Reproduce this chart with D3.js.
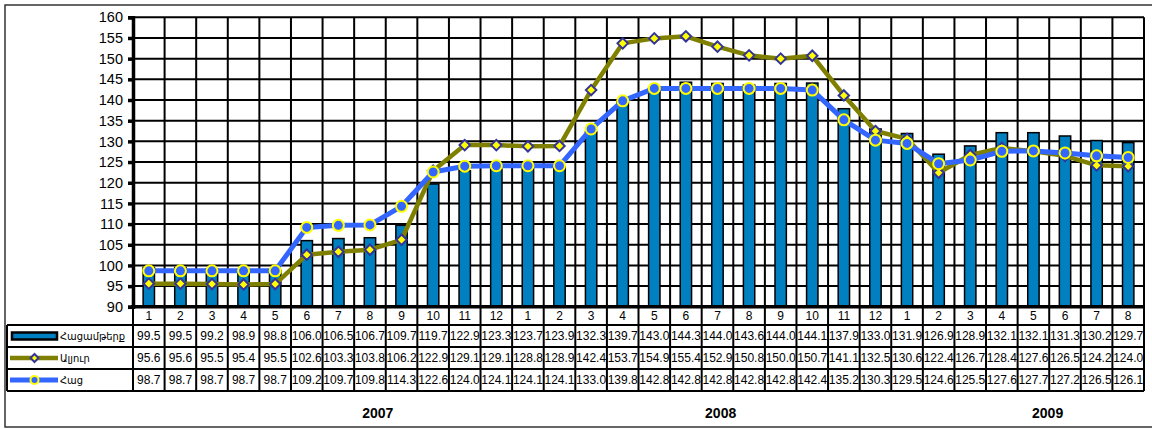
<!DOCTYPE html>
<html lang="hy">
<head>
    <meta charset="UTF-8">
    <title>Price indices chart</title>
    <script src="https://d3js.org/d3.v7.min.js"></script>
    <style>
        body {
            margin: 0;
            background: #fff;
            font-family: "Liberation Sans", Arial, "DejaVu Sans", sans-serif;
        }
        .grid line {
            stroke: #000;
            stroke-width: 2px;
        }
        .cell-text {
            font-size: 12px;
            text-anchor: middle;
        }
        .legend-text {
            font-family: "DejaVu Sans Condensed", "DejaVu Sans", sans-serif;
            font-size: 11px;
        }
        .year {
            font-size: 14px;
            font-weight: bold;
            text-anchor: middle;
        }
    </style>
</head>
<body>

<svg width="1152" height="429"></svg>

<script>
    // month labels (2007: 1-12, 2008: 1-12, 2009: 1-8)
    const months = ["1","2","3","4","5","6","7","8","9","10","11","12",
                    "1","2","3","4","5","6","7","8","9","10","11","12",
                    "1","2","3","4","5","6","7","8"];
    const years = ["2007", "2008", "2009"];

    const seriesNames = ["Հացամթերք", "Ալյուր", "Հաց"];

    // bread products (bars)
    const breadProducts = [99.5, 99.5, 99.2, 98.9, 98.8, 106.0, 106.5, 106.7, 109.7, 119.7, 122.9, 123.3,
                           123.7, 123.9, 132.3, 139.7, 143.0, 144.3, 144.0, 143.6, 144.0, 144.1, 137.9, 133.0,
                           131.9, 126.9, 128.9, 132.1, 132.1, 131.3, 130.2, 129.7];
    // flour
    const flour = [95.6, 95.6, 95.5, 95.4, 95.5, 102.6, 103.3, 103.8, 106.2, 122.9, 129.1, 129.1,
                   128.8, 128.9, 142.4, 153.7, 154.9, 155.4, 152.9, 150.8, 150.0, 150.7, 141.1, 132.5,
                   130.6, 122.4, 126.7, 128.4, 127.6, 126.5, 124.2, 124.0];
    // bread
    const bread = [98.7, 98.7, 98.7, 98.7, 98.7, 109.2, 109.7, 109.8, 114.3, 122.6, 124.0, 124.1,
                   124.1, 124.1, 133.0, 139.8, 142.8, 142.8, 142.8, 142.8, 142.8, 142.4, 135.2, 130.3,
                   129.5, 124.6, 125.5, 127.6, 127.7, 127.2, 126.5, 126.1];

    const yTicks = d3.range(90, 161, 5);

    const svg = d3.select("svg");

    // plot area
    const plotLeft = 133, plotRight = 1144, plotTop = 17.3, plotBottom = 306.8;
    // table rows
    const rowTops = [306.8, 325, 347, 369, 391];
    const tableLeft = 7;

    const x = d3.scaleBand().domain(d3.range(months.length)).range([plotLeft, plotRight]).padding(0);
    const y = d3.scaleLinear().domain([90, 160]).range([plotBottom, plotTop]);

    // outer chart frame
    svg.append("rect")
        .attr("x", 5).attr("y", 5)
        .attr("width", 1160).attr("height", 422)
        .attr("fill", "none")
        .attr("stroke", "#333")
        .attr("stroke-width", 1.5);

    // gridlines
    const grid = svg.append("g").attr("class", "grid");
    grid.selectAll(".h")
        .data(yTicks.slice(1))
        .enter().append("line")
          .attr("x1", plotLeft).attr("x2", plotRight)
          .attr("y1", d => y(d)).attr("y2", d => y(d));
    grid.selectAll(".v")
        .data(d3.range(months.length + 1))
        .enter().append("line")
          .attr("x1", i => plotLeft + i * x.step()).attr("x2", i => plotLeft + i * x.step())
          .attr("y1", plotTop).attr("y2", plotBottom);

    // bars
    const barW = x.bandwidth() * 0.36;
    svg.append("g").selectAll("rect")
        .data(breadProducts)
        .enter().append("rect")
          .attr("x", (d, i) => x(i) + (x.bandwidth() - barW) / 2)
          .attr("y", d => y(d))
          .attr("width", barW)
          .attr("height", d => y(90) - y(d))
          .attr("fill", "#0080C0")
          .attr("stroke", "#000")
          .attr("stroke-width", 1.5);

    const cx = i => x(i) + x.bandwidth() / 2;
    const line = d3.line().x((d, i) => cx(i)).y(d => y(d));

    // flour line + diamonds
    svg.append("path")
        .datum(flour)
        .attr("d", line)
        .attr("fill", "none")
        .attr("stroke", "#808000")
        .attr("stroke-width", 4.5)
        .attr("stroke-linejoin", "round");
    svg.append("g").selectAll("path")
        .data(flour)
        .enter().append("path")
          .attr("d", d3.symbol(d3.symbolDiamond2, 70))
          .attr("transform", (d, i) => `translate(${cx(i)},${y(d)})`)
          .attr("fill", "#FFFF00")
          .attr("stroke", "#333399")
          .attr("stroke-width", 2);

    // bread line + circles
    svg.append("path")
        .datum(bread)
        .attr("d", line)
        .attr("fill", "none")
        .attr("stroke", "#3366FF")
        .attr("stroke-width", 5)
        .attr("stroke-linejoin", "round");
    svg.append("g").selectAll("circle")
        .data(bread)
        .enter().append("circle")
          .attr("cx", (d, i) => cx(i))
          .attr("cy", d => y(d))
          .attr("r", 5.5)
          .attr("fill", "#3366FF")
          .attr("stroke", "#FFFF00")
          .attr("stroke-width", 2);

    // y axis
    const yAxis = svg.append("g")
        .attr("transform", `translate(${plotLeft},0)`)
        .call(d3.axisLeft(y).tickValues(yTicks).tickSize(5).tickPadding(5));
    yAxis.select(".domain").attr("stroke", "#000").attr("stroke-width", 3.5);
    yAxis.selectAll(".tick line").attr("stroke", "#000").attr("stroke-width", 3.5);
    yAxis.selectAll(".tick text")
        .attr("fill", "#000")
        .style("font-size", "14.5px")
        .style("font-family", "\"Liberation Sans\", Arial, sans-serif");

    // data table
    const table = svg.append("g").attr("class", "grid");
    // bottom axis line
    table.append("line")
        .attr("x1", plotLeft - 2).attr("x2", plotRight + 1)
        .attr("y1", plotBottom).attr("y2", plotBottom)
        .style("stroke-width", 3.5);
    rowTops.slice(1).forEach(ry => {
        table.append("line")
            .attr("x1", tableLeft).attr("x2", plotRight)
            .attr("y1", ry).attr("y2", ry);
    });
    table.selectAll(".tv")
        .data(d3.range(months.length + 1))
        .enter().append("line")
          .attr("x1", i => plotLeft + i * x.step()).attr("x2", i => plotLeft + i * x.step())
          .attr("y1", plotBottom).attr("y2", rowTops[4]);
    table.append("line")
        .attr("x1", tableLeft).attr("x2", tableLeft)
        .attr("y1", rowTops[1]).attr("y2", rowTops[4]);

    const rowMid = k => (rowTops[k] + rowTops[k + 1]) / 2;

    svg.append("g").selectAll("text")
        .data(months)
        .enter().append("text")
          .attr("class", "cell-text")
          .attr("x", (d, i) => cx(i))
          .attr("y", rowMid(0))
          .attr("dy", "0.36em")
          .text(d => d);

    [breadProducts, flour, bread].forEach((vals, k) => {
        svg.append("g").selectAll("text")
            .data(vals)
            .enter().append("text")
              .attr("class", "cell-text")
              .attr("x", (d, i) => cx(i))
              .attr("y", rowMid(k + 1))
              .attr("dy", "0.36em")
              .text(d => d.toFixed(1));
    });

    // legend keys in the table
    const keyX0 = 12, keyX1 = 57, keyMid = (keyX0 + keyX1) / 2;
    const leg = svg.append("g");
    leg.append("rect")
        .attr("x", keyX0).attr("y", rowMid(1) - 3.5)
        .attr("width", keyX1 - keyX0).attr("height", 7)
        .attr("fill", "#0080C0")
        .attr("stroke", "#000")
        .attr("stroke-width", 2.5);
    leg.append("line")
        .attr("x1", keyX0 - 2).attr("x2", keyX1 + 1)
        .attr("y1", rowMid(2)).attr("y2", rowMid(2))
        .attr("stroke", "#808000").attr("stroke-width", 4.5);
    leg.append("path")
        .attr("d", d3.symbol(d3.symbolDiamond2, 40))
        .attr("transform", `translate(${keyMid},${rowMid(2)})`)
        .attr("fill", "#FFFF00")
        .attr("stroke", "#333399")
        .attr("stroke-width", 2);
    leg.append("line")
        .attr("x1", keyX0 - 2).attr("x2", keyX1 + 1)
        .attr("y1", rowMid(3)).attr("y2", rowMid(3))
        .attr("stroke", "#3366FF").attr("stroke-width", 5);
    leg.append("circle")
        .attr("cx", keyMid).attr("cy", rowMid(3))
        .attr("r", 4)
        .attr("fill", "#3366FF")
        .attr("stroke", "#FFFF00")
        .attr("stroke-width", 2);
    seriesNames.forEach((name, k) => {
        leg.append("text")
            .attr("class", "legend-text")
            .attr("x", 60)
            .attr("y", rowMid(k + 1))
            .attr("dy", "0.36em")
            .text(name);
    });

    // year labels under the table
    const yearAt = [7.75, 18.6, 28.95];
    svg.append("g").selectAll("text")
        .data(years)
        .enter().append("text")
          .attr("class", "year")
          .attr("x", (d, i) => plotLeft + yearAt[i] * x.step())
          .attr("y", 418)
          .text(d => d);
</script>

</body>
</html>
